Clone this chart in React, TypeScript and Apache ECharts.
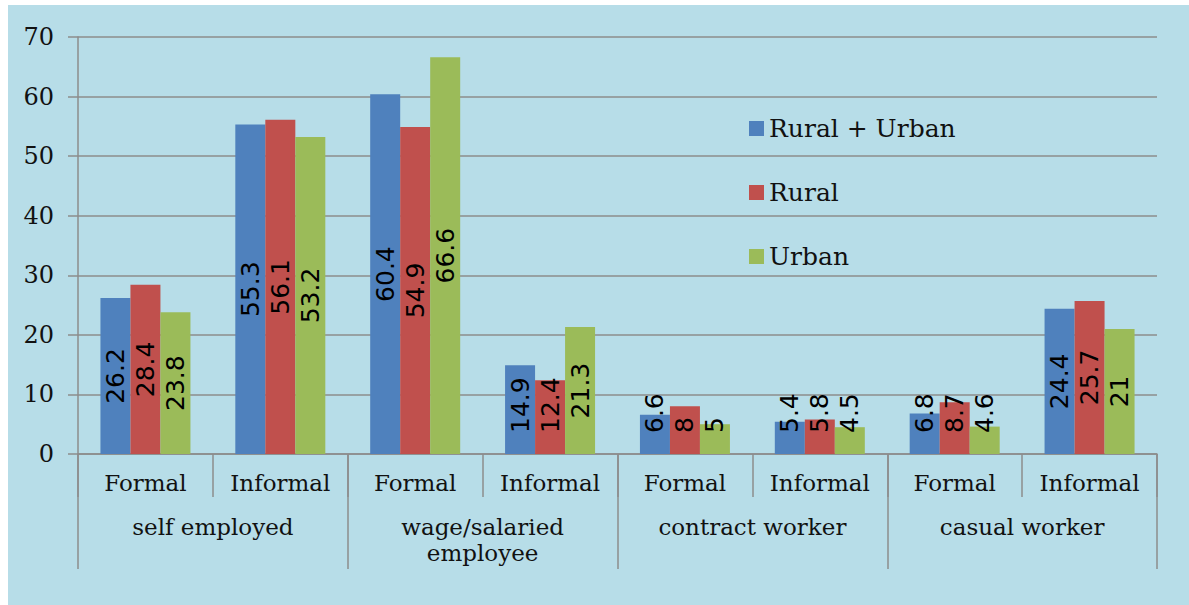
import React, { useEffect, useRef } from "react";
import * as echarts from "echarts";

const categories = ["Formal", "Informal", "Formal", "Informal", "Formal", "Informal", "Formal", "Informal"];
const groups = ["self employed", "wage/salaried\nemployee", "contract worker", "casual worker"];
const seriesNames = ["Rural + Urban", "Rural", "Urban"];
const ruralUrban = [26.2, 55.3, 60.4, 14.9, 6.6, 5.4, 6.8, 24.4];
const rural = [28.4, 56.1, 54.9, 12.4, 8, 5.8, 8.7, 25.7];
const urban = [23.8, 53.2, 66.6, 21.3, 5, 4.5, 4.6, 21];
const colors = ["#4f81bd", "#c0504d", "#9bbb59"];

const SERIF = "'DejaVu Serif', serif";
const SANS = "'DejaVu Sans', sans-serif";
const LABEL_SIZE = 25;
const GRID_TOP = 37;
const GRID_BOTTOM = 151;
const CHART_H = 605;
const Y_MAX = 70;
const PX_PER_UNIT = (CHART_H - GRID_TOP - GRID_BOTTOM) / Y_MAX;
const MIN_GAP = 21;

function labelLen(s: string) {
  let w = 0;
  for (const ch of s) w += ch === "." ? 0.318 : 0.636;
  return w * LABEL_SIZE;
}

function buildData(values: number[]) {
  return values.map((v) => {
    const len = labelLen(String(v));
    const barH = v * PX_PER_UNIT;
    if (barH / 2 - len / 2 < MIN_GAP) {
      return {
        value: v,
        label: {
          position: "insideBottom",
          distance: MIN_GAP,
          align: "left",
          verticalAlign: "middle",
        },
      };
    }
    return { value: v };
  });
}

export default function App() {
  const ref = useRef<HTMLDivElement>(null);
  useEffect(() => {
    if (!ref.current) return;
    const chart = echarts.init(ref.current, null, { renderer: "svg" });
    const gray = "#8c8c8c";
    const allValues = [ruralUrban, rural, urban];
    chart.setOption({
      animation: false,
      backgroundColor: "transparent",
      grid: { left: 78, right: 32, top: GRID_TOP, bottom: GRID_BOTTOM, containLabel: false },
      legend: {
        orient: "vertical",
        left: 749,
        top: 116,
        padding: 0,
        itemWidth: 15,
        itemHeight: 15,
        itemGap: 39,
        icon: "rect",
        data: seriesNames,
        textStyle: { fontFamily: SERIF, fontSize: 25, color: "#111", lineHeight: 25 },
      },
      xAxis: [
        {
          type: "category",
          data: categories,
          position: "bottom",
          axisLine: { show: true, lineStyle: { color: gray, width: 1.5 } },
          axisTick: { show: true, length: 43, interval: 0, lineStyle: { color: gray, width: 1.5 } },
          axisLabel: {
            interval: 0,
            margin: 17,
            fontFamily: SERIF,
            fontSize: 23,
            lineHeight: 23,
            color: "#111",
          },
        },
        {
          type: "category",
          data: groups,
          position: "bottom",
          axisLine: { show: false },
          axisTick: { show: true, length: 115, interval: 0, lineStyle: { color: gray, width: 1.5 } },
          axisLabel: {
            interval: 0,
            margin: 60,
            fontFamily: SERIF,
            fontSize: 23,
            lineHeight: 26,
            color: "#111",
          },
          splitLine: { show: false },
        },
      ],
      yAxis: {
        type: "value",
        min: 0,
        max: Y_MAX,
        interval: 10,
        axisLine: { show: true, lineStyle: { color: gray, width: 1.5 } },
        axisTick: { show: true, length: 10, lineStyle: { color: gray, width: 1.5 } },
        axisLabel: { margin: 24, fontFamily: SERIF, fontSize: 24, color: "#111" },
        splitLine: { show: true, lineStyle: { color: gray, width: 1.5 } },
      },
      series: allValues.map((vals, i) => ({
        name: seriesNames[i],
        type: "bar",
        xAxisIndex: 0,
        barWidth: 30,
        barGap: "0%",
        itemStyle: { color: colors[i] },
        label: {
          show: true,
          position: "inside",
          rotate: 90,
          formatter: "{c}",
          fontFamily: SANS,
          fontSize: LABEL_SIZE,
          color: "#000",
        },
        data: buildData(vals),
      })),
    });
    return () => chart.dispose();
  }, []);

  return (
    <div style={{ position: "fixed", left: 0, top: 0, width: 1189, height: 605, background: "#ffffff" }}>
      <div style={{ position: "absolute", left: 8, top: 5, right: 0, bottom: 0, background: "#b7dde8" }} />
      <div ref={ref} style={{ position: "absolute", left: 0, top: 0, width: 1189, height: 605 }} />
    </div>
  );
}
